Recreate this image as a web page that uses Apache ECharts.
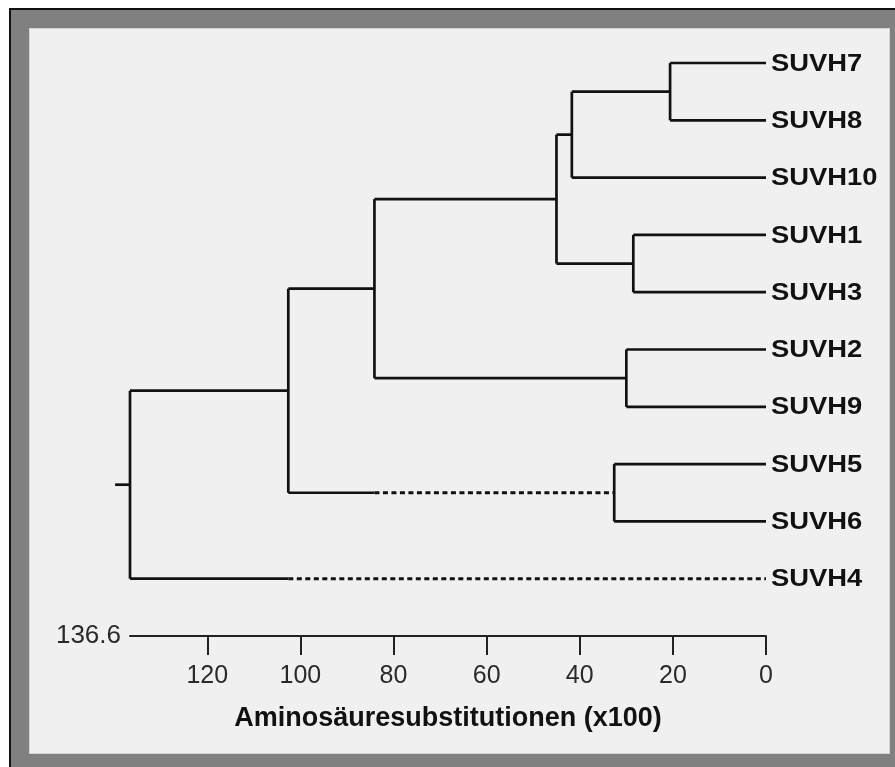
<!DOCTYPE html>
<html>
<head>
<meta charset="utf-8">
<script src="https://cdn.jsdelivr.net/npm/echarts@6/dist/echarts.min.js"></script>
<style>
  html, body { margin: 0; padding: 0; background: #ffffff; }
  #frame { position: absolute; left: 9px; top: 8px; width: 884px; height: 757px;
           background: #808080; border-left: 2px solid #111; border-top: 2px solid #111; }
  #panel { position: absolute; left: 29px; top: 28px; width: 859px; height: 724px;
           background: #f0f0f0; border: 1px solid #d4d4d4; }
  #chart { position: absolute; left: 0; top: 0; width: 895px; height: 767px; }
</style>
</head>
<body>
<div id="frame"></div>
<div id="panel"></div>
<div id="chart"></div>
<script>
// Leaves, top to bottom
const leaves = ['SUVH7', 'SUVH8', 'SUVH10', 'SUVH1', 'SUVH3', 'SUVH2', 'SUVH9', 'SUVH5', 'SUVH6', 'SUVH4'];
// Internal nodes (merge order), their two children and their heights (x100 substitutions)
const nodeNames  = ['n7_8', 'n7_8_10', 'n1_3', 'n2_9', 'nUpper', 'nMid', 'n5_6', 'nAll9', 'root'];
const nodeLeft   = ['SUVH7', 'n7_8', 'SUVH1', 'SUVH2', 'n7_8_10', 'nUpper', 'SUVH5', 'nMid', 'nAll9'];
const nodeRight  = ['SUVH8', 'SUVH10', 'SUVH3', 'SUVH9', 'n1_3', 'n2_9', 'SUVH6', 'n5_6', 'SUVH4'];
const nodeHeight = [20.6, 41.7, 28.5, 30.0, 45.0, 84.1, 32.6, 102.6, 136.6];
// Branches drawn broken (dashed) from a given distance down to the child
const dashedChild = ['n5_6', 'SUVH4'];
const dashedFrom  = [84.1, 102.6];
// Root stem end
const rootStem = 139.8;
// Axis
const axisMax = 136.6;
const axisMaxLabel = '136.6';
const tickValues = [0, 20, 40, 60, 80, 100, 120];
const axisTitle = 'Aminosäuresubstitutionen (x100)';

const FONT = '"Liberation Sans", Arial, Helvetica, sans-serif';
const LINE = '#111111';

// compute node positions
const pos = {};
leaves.forEach((n, i) => { pos[n] = { x: 0, y: i }; });
nodeNames.forEach((n, i) => {
  const a = pos[nodeLeft[i]], b = pos[nodeRight[i]];
  pos[n] = { x: nodeHeight[i], y: (a.y + b.y) / 2 };
});

function renderItem(params, api) {
  const children = [];
  const line = (pts, dashed) => {
    children.push({
      type: 'polyline',
      shape: { points: pts.map(p => api.coord(p)) },
      style: { stroke: LINE, lineWidth: dashed ? 3 : 2.7, fill: null, lineDash: dashed ? [5, 3.5] : null, lineCap: 'butt', lineJoin: 'miter' },
      silent: true
    });
  };
  nodeNames.forEach((n, i) => {
    const p = pos[n];
    const a = pos[nodeLeft[i]], b = pos[nodeRight[i]];
    line([[p.x, a.y], [p.x, b.y]]);
    [nodeLeft[i], nodeRight[i]].forEach(c => {
      const cp = pos[c];
      const di = dashedChild.indexOf(c);
      if (di >= 0) {
        line([[p.x, cp.y], [dashedFrom[di], cp.y]]);
        line([[dashedFrom[di], cp.y], [cp.x, cp.y]], true);
      } else {
        line([[p.x, cp.y], [cp.x, cp.y]]);
      }
    });
  });
  const r = pos['root'];
  line([[rootStem, r.y], [r.x, r.y]]);
  leaves.forEach((n, i) => {
    const c = api.coord([0, i]);
    children.push({
      type: 'text',
      x: c[0] + 5, y: c[1] + 1,
      style: { text: n, fill: '#111', font: 'bold 24px ' + FONT, align: 'left', verticalAlign: 'middle' },
      scaleX: 1.14,
      silent: true
    });
  });
  const m = api.coord([axisMax, leaves.length]);
  children.push({
    type: 'text',
    x: m[0] - 9, y: m[1],
    style: { text: axisMaxLabel, fill: '#2a2a2a', font: '26px ' + FONT, align: 'right', verticalAlign: 'middle' },
    silent: true
  });
  return { type: 'group', children };
}

const chart = echarts.init(document.getElementById('chart'), null, { renderer: 'canvas' });
chart.setOption({
  backgroundColor: 'transparent',
  animation: false,
  grid: { left: 130, right: 129, top: 63, bottom: 131, containLabel: false },
  xAxis: {
    type: 'value', min: 0, max: axisMax, inverse: true, interval: 20,
    position: 'bottom',
    splitLine: { show: false },
    axisLine: { show: true, onZero: false, lineStyle: { color: '#222', width: 2 } },
    axisTick: { show: true, length: 19, inside: false, lineStyle: { color: '#222', width: 2 } },
    axisLabel: { color: '#2a2a2a', fontSize: 25, fontFamily: FONT, margin: 28, showMaxLabel: false, hideOverlap: false },
    name: axisTitle, nameLocation: 'middle', nameGap: 69,
    nameTextStyle: { color: '#111', fontSize: 27, fontWeight: 'bold', fontFamily: FONT }
  },
  yAxis: { type: 'value', min: 0, max: leaves.length, inverse: true, show: false },
  series: [{
    type: 'custom',
    clip: false,
    renderItem,
    data: [[0, 0]],
    silent: true
  }]
});
</script>
</body>
</html>
